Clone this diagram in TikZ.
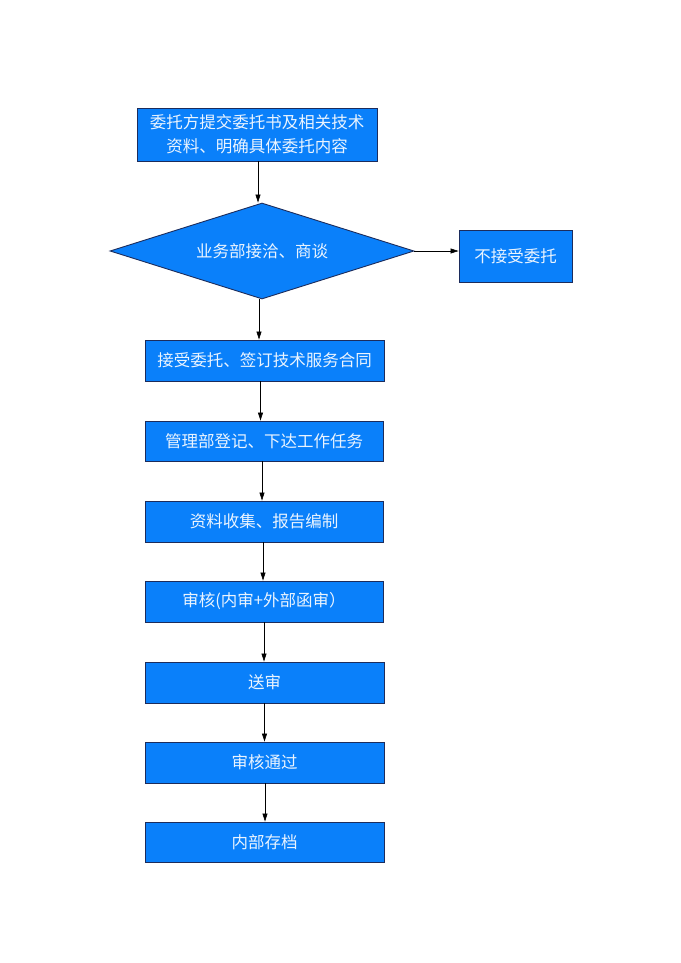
\documentclass[tikz,border=0pt]{standalone}
\usepackage{fontspec}
\newfontfamily\cjk{Noto Sans CJK SC}
\usetikzlibrary{shapes.geometric,arrows.meta}
\definecolor{boxfill}{HTML}{0A80FA}
\definecolor{boxline}{HTML}{1C2C5C}
\definecolor{boxtext}{HTML}{EAF4FF}
\tikzset{
  x=1pt,y=1pt,
  box/.style={draw=boxline, line width=0.9pt, fill=boxfill, text=boxtext, font=\cjk\fontsize{16.5}{24}\selectfont, inner sep=0pt, align=center},
  dia/.style={box, shape=diamond, shape aspect=3.17, inner sep=0pt},
  arr/.style={draw=black, line width=0.6pt, -{Triangle[length=8pt,width=5pt]}}
}
\begin{document}
\begin{tikzpicture}
\useasboundingbox (0,0) rectangle (680,-963);
\fill[white] (0,0) rectangle (680,-963);
\node[box, minimum width=240pt, minimum height=53pt] (b1) at (257,-134.5) {委托方提交委托书及相关技术\\资料、明确具体委托内容};
\node[dia, minimum width=304pt, minimum height=96pt] (d) at (262,-251) {业务部接洽、商谈};
\node[box, minimum width=113pt, minimum height=52pt] (no) at (515.5,-256) {不接受委托};
\node[box, minimum width=239pt, minimum height=41pt] (b3) at (264.5,-360.5) {接受委托、签订技术服务合同};
\node[box, minimum width=238pt, minimum height=40pt] (b4) at (264,-441) {管理部登记、下达工作任务};
\node[box, minimum width=238pt, minimum height=41pt] (b5) at (264,-521.5) {资料收集、报告编制};
\node[box, minimum width=238pt, minimum height=41pt] (b6) at (264,-601.5) {审核(内审+外部函审）};
\node[box, minimum width=239pt, minimum height=41pt] (b7) at (264.5,-682.5) {送审};
\node[box, minimum width=239pt, minimum height=41pt] (b8) at (264.5,-762.5) {审核通过};
\node[box, minimum width=239pt, minimum height=40pt] (b9) at (264.5,-842) {内部存档};
\draw[arr] ([xshift=1pt]b1.south) -- ([xshift=1pt]b1.south |- d.north);
\draw[arr] ([xshift=-3pt]d.south) -- ([xshift=-3pt]d.south |- b3.north);
\draw[arr] (d.east) -- (d.east -| no.west);
\draw[arr] ([xshift=-4pt]b3.south) -- ([xshift=-4pt]b3.south |- b4.north);
\draw[arr] ([xshift=-2pt]b4.south) -- ([xshift=-2pt]b4.south |- b5.north);
\draw[arr] ([xshift=-1pt]b5.south) -- ([xshift=-1pt]b5.south |- b6.north);
\draw[arr] (b6.south) -- (b6.south |- b7.north);
\draw[arr] (b7.south) -- (b7.south |- b8.north);
\draw[arr] ([xshift=0.5pt]b8.south) -- ([xshift=0.5pt]b8.south |- b9.north);
\end{tikzpicture}
\end{document}
